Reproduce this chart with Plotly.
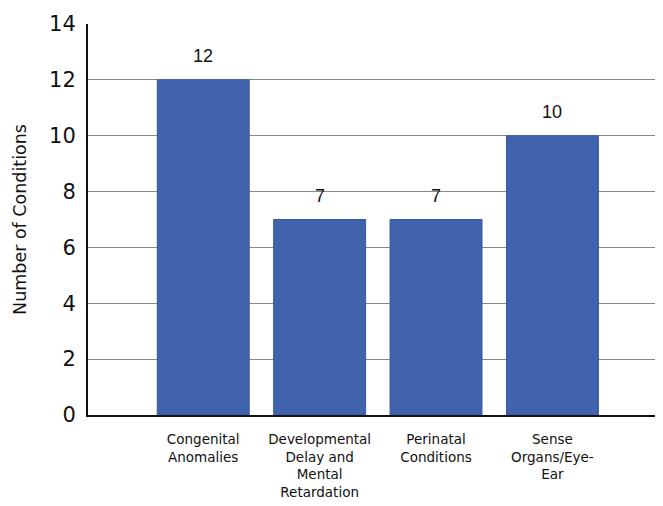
import plotly.graph_objects as go

# values
categories = ["Congenital Anomalies", "Developmental Delay and Mental Retardation",
              "Perinatal Conditions", "Sense Organs/Eye-Ear"]
tick_labels = ["Congenital<br>Anomalies", "Developmental<br>Delay and<br>Mental<br>Retardation",
               "Perinatal<br>Conditions", "Sense<br>Organs/Eye-<br>Ear"]
counts = [12, 7, 7, 10]
y_ticks = [0, 2, 4, 6, 8, 10, 12, 14]

bar_color = "#4162ad"

fig = go.Figure(go.Bar(
    x=categories,
    y=counts,
    width=0.79,
    marker=dict(color=bar_color, line=dict(color="#3a5a9f", width=1)),
    hoverinfo="x+y",
))

# value labels above bars
for c, v in zip(categories, counts):
    fig.add_annotation(x=c, y=v, text=str(v), showarrow=False,
                       yanchor="bottom", yshift=12,
                       font=dict(family="Liberation Sans, Arial", size=18, color="#111"))

# page body adds an 8px offset, so the figure is 8px smaller than the window
fig.update_layout(
    width=655, height=498,
    margin=dict(l=80, r=0, t=16, b=91),
    plot_bgcolor="white", paper_bgcolor="white",
    showlegend=False,
    font=dict(family="DejaVu Sans, Verdana", color="#111"),
)

fig.update_xaxes(
    range=[-0.99, 3.95],
    tickvals=categories, ticktext=tick_labels,
    tickfont=dict(family="DejaVu Sans, Verdana", size=13.5),
    ticks="", ticklabelstandoff=11,
    showline=True, linecolor="#111", linewidth=2,
    showgrid=False,
)

fig.update_yaxes(
    range=[0, 14], tickvals=y_ticks,
    tickfont=dict(family="DejaVu Sans, Verdana", size=21),
    ticks="", ticklabelstandoff=6,
    showline=True, linecolor="#111", linewidth=2,
    showgrid=True, gridcolor="#888888", gridwidth=1.3,
    zeroline=False,
    title=dict(text="Number of Conditions",
               font=dict(family="DejaVu Sans, Verdana", size=17.5), standoff=18),
)

fig.write_html("out.html")
